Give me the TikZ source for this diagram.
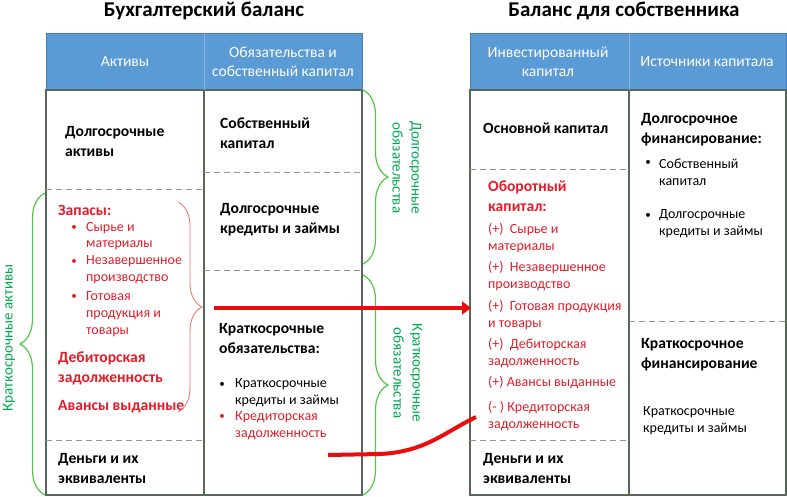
\documentclass[tikz,border=0pt]{standalone}
\usepackage{fontspec}
\setmainfont{Carlito}
\usetikzlibrary{arrows.meta,decorations.pathreplacing}
\definecolor{headBlue}{RGB}{91,155,213}
\definecolor{headEdge}{RGB}{70,125,185}
\definecolor{gridLine}{RGB}{88,104,88}
\definecolor{dashLine}{RGB}{150,150,150}
\definecolor{itemRed}{RGB}{228,28,40}
\definecolor{arrowRed}{RGB}{236,12,12}
\definecolor{braceGreen}{RGB}{80,200,70}
\definecolor{textGreen}{RGB}{0,170,80}
\definecolor{braceRed}{RGB}{238,120,120}
\tikzstyle{titleText}=[font=\fontsize{21}{25}\selectfont\bfseries, inner sep=0pt]
\tikzstyle{headText}=[font=\fontsize{15.5}{19.5}\selectfont, text=white, align=center, inner sep=0pt]
\tikzstyle{boldText}=[font=\fontsize{15.6}{20}\selectfont\bfseries, anchor=west, align=left, inner sep=0pt]
\tikzstyle{plainText}=[font=\fontsize{14}{16.8}\selectfont, anchor=west, align=left, inner sep=0pt]
\tikzstyle{bulletDot}=[font=\fontsize{11}{14}\selectfont, inner sep=0pt]

\begin{document}
\begin{tikzpicture}[x = 1pt, y = -1pt]
\tikzstyle{gridStyle}=[draw = gridLine, line width = 1.2pt]
\tikzstyle{dashStyle}=[draw = dashLine, line width = 1pt, dash pattern = on 6pt off 4pt]
\tikzstyle{greenBrace}=[draw = braceGreen, line width = 1.2pt, decorate, decoration = {brace, amplitude = 25pt, aspect = 0.5}]
\tikzstyle{redBrace}=[draw = braceRed, line width = 0.9pt, decorate, decoration = {brace, amplitude = 24pt, aspect = 0.5}]
\tikzstyle{greenLabel}=[font = \fontsize{15}{19}\selectfont, text = textGreen, align = center, inner sep = 0pt]
\tikzstyle{redLine}=[draw = arrowRed, line width = 4pt]
\useasboundingbox (0,0) rectangle (787,496);
% titles
\node[titleText] (tBuh) at (204,11) {Бухгалтерский баланс};
\node[titleText] (tSob) at (624,11) {Баланс для собственника};
% left table
\fill[headBlue] (46,33) rectangle (362,90);
\draw[gridStyle] (46,90) rectangle (362,495);
\draw[gridStyle] (204,90) -- (204,495);
\draw[draw = headEdge, line width = 1pt] (46,90) -- (46,33) -- (362,33) -- (362,90);
\draw[draw = headEdge!60!white, line width = 1pt] (204,33) -- (204,90);
\draw[dashStyle] (46,189) -- (204,189);
\draw[dashStyle] (46,440) -- (204,440);
\draw[dashStyle] (204,172) -- (362,172);
\draw[dashStyle] (204,270) -- (362,270);
\node[headText] (hAkt) at (125,62) {Активы};
\node[headText] (hObz) at (283,62) {Обязательства и\\собственный капитал};
% right table
\fill[headBlue] (470,33) rectangle (786,90);
\draw[gridStyle] (470,90) rectangle (786,495);
\draw[gridStyle] (629,90) -- (629,495);
\draw[draw = headEdge, line width = 1pt] (470,90) -- (470,33) -- (786,33) -- (786,90);
\draw[draw = headEdge!60!white, line width = 1pt] (629,33) -- (629,90);
\draw[dashStyle] (470,169) -- (629,169);
\draw[dashStyle] (470,440) -- (629,440);
\draw[dashStyle] (629,321) -- (786,321);
\node[headText] (hInv) at (548,62) {Инвестированный\\капитал};
\node[headText] (hIst) at (707,62) {Источники капитала};
% left table, assets
\node[boldText] (aDolg) at (65,141) {Долгосрочные\\активы};
\node[boldText, text = itemRed] (aZap) at (58,210) {Запасы:};
\node[bulletDot, text = itemRed] (b1) at (74,228) {•};
\node[plainText, text = itemRed] (aSyr) at (86,236) {Сырье и\\материалы};
\node[bulletDot, text = itemRed] (b2) at (74,262) {•};
\node[plainText, text = itemRed] (aNez) at (86,270) {Незавершенное\\производство};
\node[bulletDot, text = itemRed] (b3) at (74,297) {•};
\node[plainText, text = itemRed] (aGot) at (86,314) {Готовая\\продукция и\\товары};
\node[boldText, text = itemRed] (aDeb) at (58,368) {Дебиторская\\задолженность};
\node[boldText, text = itemRed] (aAvn) at (58,407) {Авансы выданные};
\node[boldText] (aDen) at (58,468) {Деньги и их\\эквиваленты};
% left table, liabilities
\node[boldText] (pSob) at (220,133) {Собственный\\капитал};
\node[boldText] (pDkr) at (220,220) {Долгосрочные\\кредиты и займы};
\node[boldText] (pKob) at (219,338) {Краткосрочные\\обязательства:};
\node[bulletDot] (b4) at (222,385) {•};
\node[plainText] (pKkr) at (235,393) {Краткосрочные\\кредиты и займы};
\node[bulletDot, text = itemRed] (b5) at (222,417) {•};
\node[plainText, text = itemRed] (pKrz) at (235,426) {Кредиторская\\задолженность};
% right table, invested capital
\node[boldText] (iOsn) at (483,128) {Основной капитал};
\node[boldText, text = itemRed] (iObr) at (488,196) {Оборотный\\капитал:};
\node[plainText, text = itemRed] (iSyr) at (488,238) {(+)\ \ Сырье и\\материалы};
\node[plainText, text = itemRed] (iNez) at (488,276) {(+)\ \ Незавершенное\\производство};
\node[plainText, text = itemRed] (iGot) at (488,315) {(+)\ \ Готовая продукция\\и товары};
\node[plainText, text = itemRed] (iDeb) at (488,353) {(+)\ \ Дебиторская\\задолженность};
\node[plainText, text = itemRed] (iAvn) at (488,383) {(+) Авансы выданные};
\node[plainText, text = itemRed] (iKrz) at (488,416) {(- ) Кредиторская\\задолженность};
\node[boldText] (iDen) at (483,468) {Деньги и их\\эквиваленты};
% right table, capital sources
\node[boldText] (sDf) at (641,130) {Долгосрочное\\финансирование:};
\node[bulletDot] (b6) at (648,163) {•};
\node[plainText] (sSob) at (659,172) {Собственный\\капитал};
\node[bulletDot] (b7) at (648,216) {•};
\node[plainText] (sDkr) at (659,224) {Долгосрочные\\кредиты и займы};
\node[boldText] (sKf) at (641,355) {Краткосрочное\\финансирование};
\node[plainText] (sKkr) at (643,421) {Краткосрочные\\кредиты и займы};
% braces
\draw[greenBrace] (45,495) -- (45,193);
\draw[greenBrace] (363,90) -- (363,264);
\draw[greenBrace] (363,275) -- (363,495);
\draw[redBrace] (178,202) -- (178,412);
\node[greenLabel, rotate = 90] (gKra) at (9,338) {Краткосрочные активы};
\node[greenLabel, rotate = -90] (gDob) at (407,168) {Долгосрочные\\обязательства};
\node[greenLabel, rotate = -90] (gKob) at (408,373) {Краткосрочные\\обязательства};
% red connectors
\coordinate (zapTip) at (214,308);
\coordinate (invIn) at (471,308);
\coordinate (krzOut) at (328,455);
\coordinate (krzIn) at (476,417);
\draw[redLine, -{Triangle[length = 9pt, width = 13pt]}] (zapTip) -- (invIn);
\draw[redLine] (krzOut) -- (380,454) .. controls (425,452) and (445,432) .. (krzIn);
\end{tikzpicture}
\end{document}
